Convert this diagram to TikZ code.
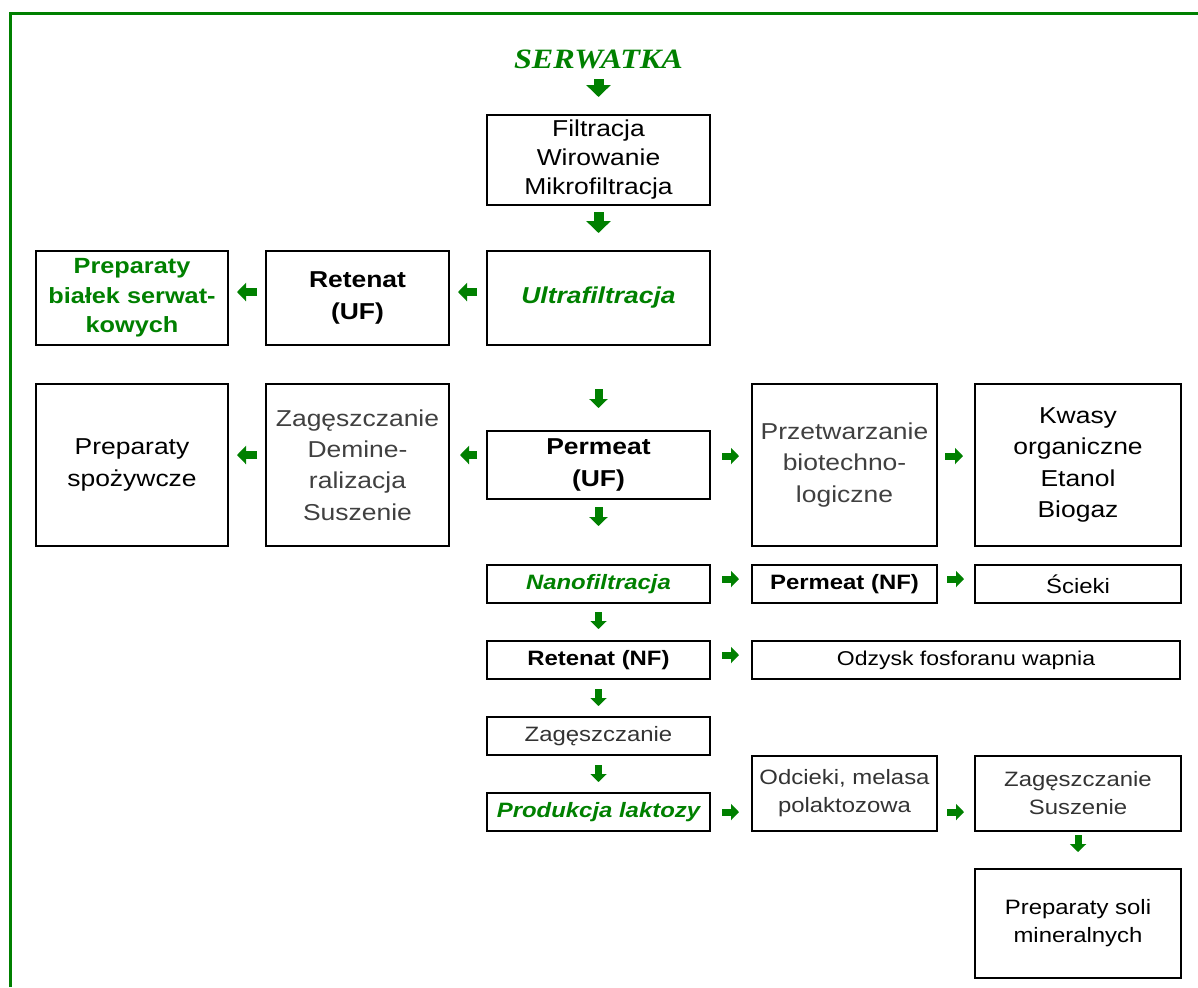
\documentclass[tikz,border=0pt]{standalone}
\usepackage{fontspec}
\newfontfamily\arialf{Liberation Sans}[FakeStretch=1.15]
\newfontfamily\timesf{Liberation Serif}[FakeStretch=1.15]
\usepackage{tikz}
\usetikzlibrary{positioning,arrows.meta}
\definecolor{darkgrn}{RGB}{0,128,0}
\newcommand{\bigtxt}{\arialf\fontsize{11.5}{15.6}\selectfont}
\newcommand{\smalltxt}{\arialf\fontsize{10.4}{14}\selectfont}

\begin{document}
\begin{tikzpicture}[x=0.5pt, y=-0.5pt,
  node distance=19pt and 19pt,
  box/.style={draw, line width=1pt, inner sep=1pt, outer sep=0pt, align=center},
  bigbox/.style={box, font=\bigtxt},
  smallbox/.style={box, font=\smalltxt, minimum height=19pt},
  main/.style={minimum width=111.5pt},
  arr/.style={color=darkgrn, line width=4pt, -{Triangle[length=4.5pt, width=9pt]}},
  bigarr/.style={arr, line width=5pt, -{Triangle[length=6pt, width=12pt]}},
  sarr/.style={arr, line width=3.5pt, -{Triangle[length=4pt, width=8pt]}},
  frame/.style={draw=darkgrn, line width=1.5pt}]
\useasboundingbox (0,0) rectangle (1198,987);
\draw[frame] (10,987) |- (1198,13.5);
% main column
\node[bigbox, main, minimum height=45pt, font=\arialf\fontsize{11.5}{14.5}\selectfont] (filt) at (598.5,160) {Filtracja\\Wirowanie\\Mikrofiltracja};
\node[font=\timesf\fontsize{14}{16}\selectfont\bfseries\itshape, text=darkgrn, inner sep=0pt, above=23pt of filt] (serw) {SERWATKA};
\node[bigbox, main, minimum height=47pt, below=23pt of filt, font=\bigtxt\bfseries\itshape, text=darkgrn] (ultra) {Ultrafiltracja};
\node[bigbox, minimum width=91.5pt, minimum height=47pt, left=of ultra, font=\bigtxt\bfseries] (retUF) {Retenat\\(UF)};
\node[bigbox, minimum width=96pt, minimum height=47pt, left=of retUF, font=\arialf\fontsize{11}{14.7}\selectfont\bfseries, text=darkgrn] (prepB) {Preparaty\\białek serwat-\\kowych};
\node[bigbox, main, minimum height=34pt, below=43pt of ultra, font=\bigtxt\bfseries] (permUF) {Permeat\\(UF)};
\node[bigbox, minimum width=91.5pt, minimum height=81pt, left=of permUF, text=black!75] (zagDem) {Zagęszczanie\\Demine-\\ralizacja\\Suszenie};
\node[bigbox, minimum width=96pt, minimum height=81pt, left=of zagDem] (prepS) {Preparaty\\spożywcze};
\node[bigbox, minimum width=92.5pt, minimum height=81pt, right=21pt of permUF, text=black!75] (przetw) {Przetwarzanie\\biotechno-\\logiczne};
\node[bigbox, minimum width=103pt, minimum height=81pt, right=of przetw] (kwasy) {Kwasy\\organiczne\\Etanol\\Biogaz};
\node[smallbox, main, below=33pt of permUF, font=\smalltxt\bfseries\itshape, text=darkgrn] (nano) {Nanofiltracja};
\node[smallbox, minimum width=92.5pt, right=21pt of nano, font=\smalltxt\bfseries] (permNF) {Permeat (NF)};
\node[smallbox, minimum width=103pt, right=of permNF] (scieki) {Ścieki};
\node[smallbox, main, below=of nano, font=\smalltxt\bfseries] (retNF) {Retenat (NF)};
\node[smallbox, minimum width=214pt, right=21pt of retNF, font=\arialf\fontsize{10}{14}\selectfont] (odzysk) {Odzysk fosforanu wapnia};
\node[smallbox, main, below=of retNF, text=black!80] (zag) {Zagęszczanie};
\node[smallbox, main, below=of zag, font=\smalltxt\bfseries\itshape, text=darkgrn] (prodL) {Produkcja laktozy};
\node[smallbox, minimum width=92.5pt, minimum height=37.5pt, right=21pt of prodL.south east, anchor=south west, text=black!80] (odc) {Odcieki, melasa\\polaktozowa};
\node[smallbox, minimum width=103pt, minimum height=37.5pt, right=of odc, text=black!80] (zagS) {Zagęszczanie\\Suszenie};
\node[smallbox, minimum width=103pt, minimum height=54.5pt, below=of zagS] (prepSoli) {Preparaty soli\\mineralnych};
% block arrows
\draw[bigarr, shorten <=5pt, shorten >=9pt] (serw) -- (filt);
\draw[bigarr, shorten <=3.5pt, shorten >=9pt] (filt) -- (ultra);
\draw[arr, shorten <=5pt, shorten >=4.5pt] ([yshift=3pt]ultra.west) -- ([yshift=3pt]retUF.east);
\draw[arr, shorten <=4.5pt, shorten >=4.5pt] ([yshift=3pt]retUF.west) -- ([yshift=3pt]prepB.east);
\draw[arr, shorten <=22pt, shorten >=11.5pt] (ultra) -- (permUF);
\draw[arr, shorten <=5pt, shorten >=5.5pt] ([yshift=5pt]permUF.west) -- ([yshift=5pt]zagDem.east);
\draw[arr, shorten <=4.5pt, shorten >=4.5pt] ([yshift=5pt]zagDem.west) -- ([yshift=5pt]prepS.east);
\draw[sarr, shorten <=6pt, shorten >=6.5pt] ([yshift=4.5pt]permUF.east) -- ([yshift=4.5pt]przetw.west);
\draw[sarr, shorten <=4pt, shorten >=6pt] ([yshift=4.5pt]przetw.east) -- ([yshift=4.5pt]kwasy.west);
\draw[arr, shorten <=4pt, shorten >=19.5pt] (permUF) -- (nano);
\draw[sarr, shorten <=6pt, shorten >=6.5pt] ([yshift=2.5pt]nano.east) -- ([yshift=2.5pt]permNF.west);
\draw[sarr, shorten <=5pt, shorten >=5.5pt] ([yshift=2.5pt]permNF.east) -- ([yshift=2.5pt]scieki.west);
\draw[sarr, shorten <=4.5pt, shorten >=6pt] (nano) -- (retNF);
\draw[sarr, shorten <=6pt, shorten >=6.5pt] ([yshift=2.5pt]retNF.east) -- ([yshift=2.5pt]odzysk.west);
\draw[sarr, shorten <=5pt, shorten >=5.5pt] (retNF) -- (zag);
\draw[sarr, shorten <=5pt, shorten >=5.5pt] (zag) -- (prodL);
\draw[sarr, shorten <=6pt, shorten >=6.5pt] (prodL.east) -- (prodL.east -| odc.west);
\draw[sarr, shorten <=5pt, shorten >=5.5pt] (prodL.east -| odc.east) -- (prodL.east -| zagS.west);
\draw[sarr, shorten <=2pt, shorten >=8.5pt] (zagS) -- (prepSoli);
\end{tikzpicture}
\end{document}
